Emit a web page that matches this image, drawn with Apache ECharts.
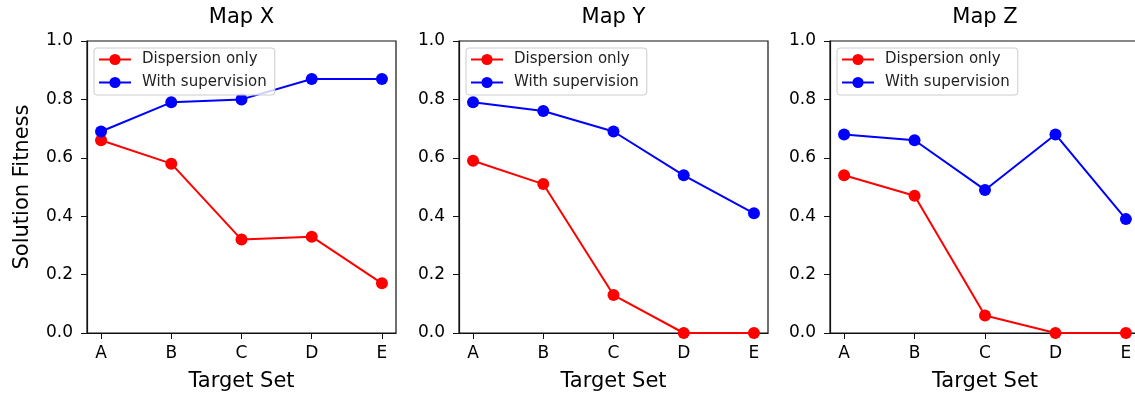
<!DOCTYPE html>
<html>
<head>
<meta charset="utf-8">
<script src="https://cdn.jsdelivr.net/npm/echarts@6/dist/echarts.min.js"></script>
<style>html,body{margin:0;padding:0;background:#fff;}#c{width:1135px;height:397px;}</style>
</head>
<body>
<div id="c"></div>
<script>
var categories = ['A', 'B', 'C', 'D', 'E'];
var panelTitles = ['Map X', 'Map Y', 'Map Z'];
var seriesNames = ['Dispersion only', 'With supervision'];
var yTicks = [0, 0.2, 0.4, 0.6, 0.8, 1.0];
var dispersionX = [0.66, 0.58, 0.32, 0.33, 0.17];
var supervisionX = [0.69, 0.79, 0.80, 0.87, 0.87];
var dispersionY = [0.59, 0.51, 0.13, 0.0, 0.0];
var supervisionY = [0.79, 0.76, 0.69, 0.54, 0.41];
var dispersionZ = [0.54, 0.47, 0.06, 0.0, 0.0];
var supervisionZ = [0.68, 0.66, 0.49, 0.68, 0.39];

var panelData = [[dispersionX, supervisionX], [dispersionY, supervisionY], [dispersionZ, supervisionZ]];
var colors = ['#ff0000', '#0000ff'];
var FONT = 'DejaVu Sans';
var layout = [{left: 87, width: 309}, {left: 459, width: 309}, {left: 830, width: 310}];
var TOP = 41, HEIGHT = 292;
var catIdx = categories.map(function (c, i) { return i; });

var option = {
  animation: false,
  backgroundColor: '#fff',
  title: [], grid: [], xAxis: [], yAxis: [], legend: [], series: []
};

layout.forEach(function (g, p) {
  option.grid.push({left: g.left, top: TOP, width: g.width, height: HEIGHT, show: true,
    outerBoundsMode: 'none', containLabel: false,
    borderColor: '#111', borderWidth: 1.2, backgroundColor: 'transparent'});
  option.title.push({text: panelTitles[p], left: g.left + g.width / 2, top: 7, textAlign: 'center', padding: 0,
    textStyle: {fontFamily: FONT, fontSize: 21, fontWeight: 'normal', color: '#000'}});
  option.xAxis.push({
    type: 'value', gridIndex: p, min: -0.2, max: 4.2,
    name: 'Target Set', nameLocation: 'middle', nameGap: 38,
    nameTextStyle: {fontFamily: FONT, fontSize: 21, color: '#000'},
    axisLine: {show: true, onZero: false, lineStyle: {color: '#111', width: 1.2}},
    axisTick: {show: true, length: 6, customValues: catIdx, lineStyle: {color: '#111'}},
    axisLabel: {customValues: catIdx, fontFamily: FONT, fontSize: 17, color: '#000', margin: 12,
      formatter: function (v) { return categories[Math.round(v)]; }},
    splitLine: {show: false}
  });
  option.yAxis.push({
    type: 'value', gridIndex: p, min: 0, max: 1, interval: 0.2,
    name: p === 0 ? 'Solution Fitness' : '', nameLocation: 'middle', nameGap: 54,
    nameTextStyle: {fontFamily: FONT, fontSize: 21, color: '#000'},
    axisLine: {show: true, onZero: false, lineStyle: {color: '#111', width: 1.2}},
    axisTick: {show: true, length: 6, lineStyle: {color: '#111'}},
    axisLabel: {fontFamily: FONT, fontSize: 17, color: '#000', margin: 14,
      formatter: function (v) { return v.toFixed(1); }},
    splitLine: {show: false}
  });
  option.legend.push({
    left: g.left + 7, top: 48, orient: 'vertical',
    data: seriesNames,
    itemWidth: 32, itemHeight: 14, itemGap: 8,
    padding: [4, 8, 5, 4],
    backgroundColor: 'rgba(255,255,255,0.8)', borderColor: '#cccccc', borderWidth: 1, borderRadius: 3,
    textStyle: {fontFamily: FONT, fontSize: 15, color: '#222', padding: [0, 0, 0, 6]}
  });
  panelData[p].forEach(function (vals, s) {
    option.series.push({
      type: 'line', name: seriesNames[s], xAxisIndex: p, yAxisIndex: p,
      data: vals.map(function (v, i) { return [catIdx[i], v]; }),
      symbol: 'circle', symbolSize: 12, clip: false,
      lineStyle: {color: colors[s], width: 2},
      itemStyle: {color: colors[s]}
    });
  });
});

var chart = echarts.init(document.getElementById('c'), null, {renderer: 'canvas'});
chart.setOption(option);
</script>
</body>
</html>
